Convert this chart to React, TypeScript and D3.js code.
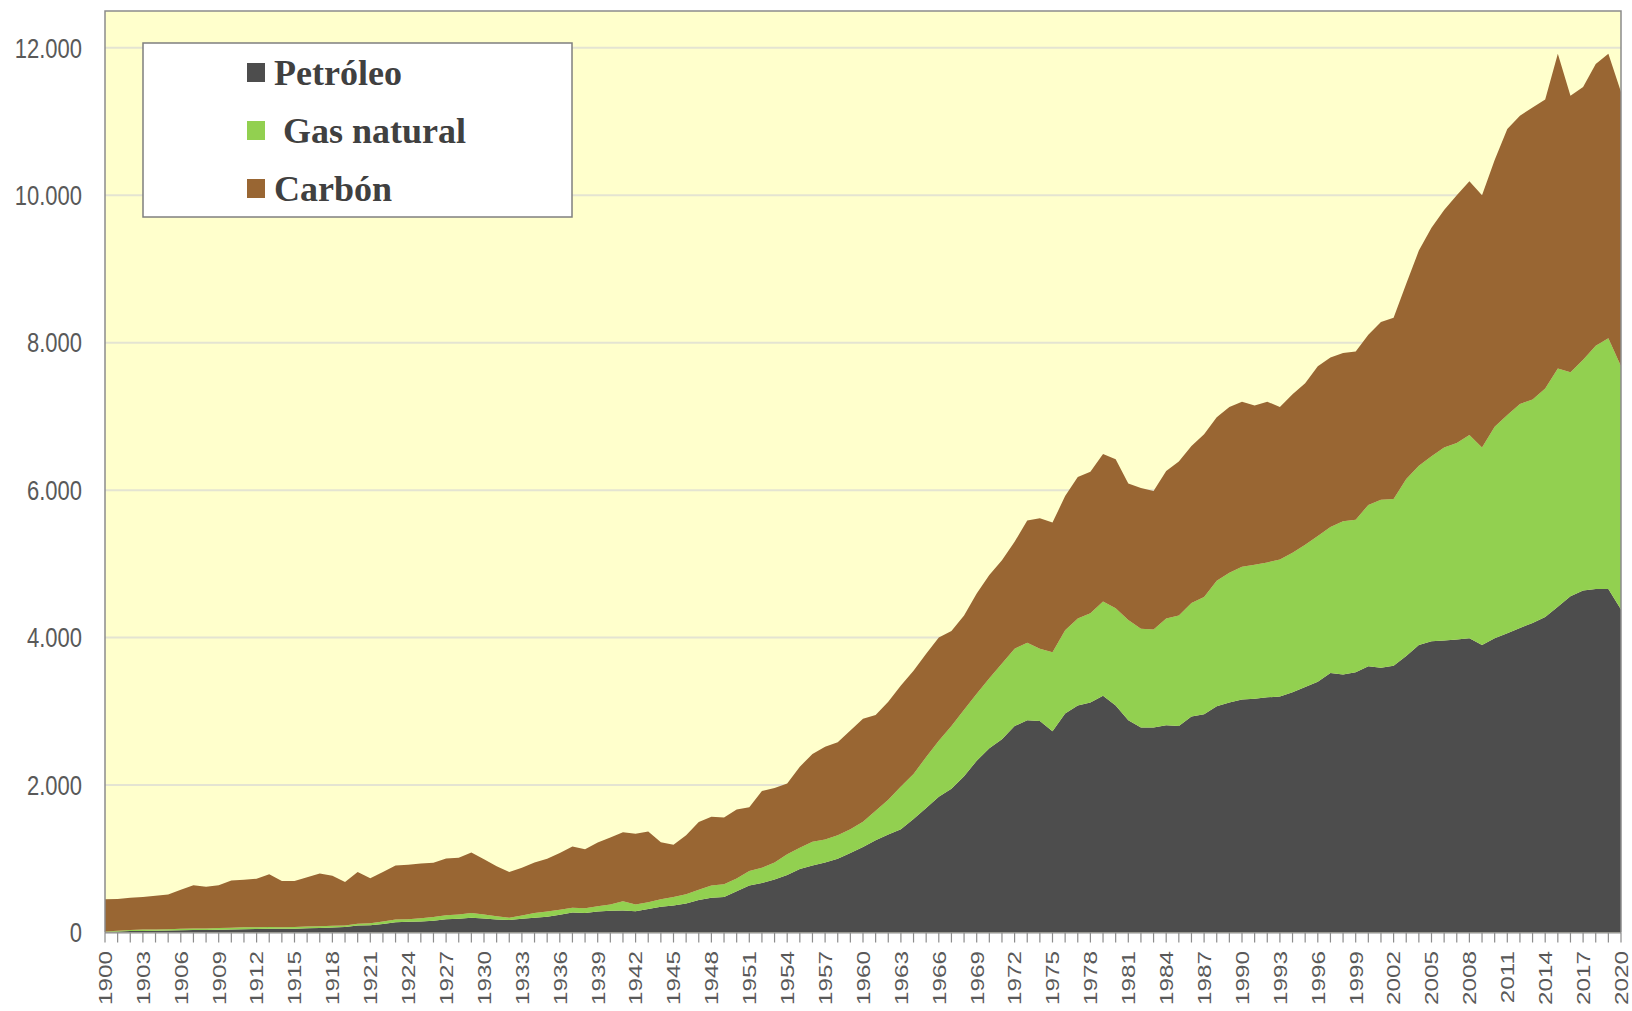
import React from "react";
import * as d3 from "d3";

const firstYear = 1900;
const lastYear = 2020;

const petroleo = [10,15,20,22,25,28,30,35,35,38, 40,45,48,50,50,52,58,62,68,75, 95,100,115,140,145,150,160,180,185,200, 190,175,170,185,200,215,240,270,265,285, 295,300,288,320,350,365,395,440,470,480, 560,636,670,720,780,860,910,950,1000,1080, 1160,1250,1330,1400,1540,1690,1840,1950,2120,2330, 2500,2620,2800,2880,2870,2730,2970,3080,3120,3210, 3080,2880,2780,2780,2810,2800,2930,2960,3070,3120, 3160,3170,3190,3200,3260,3330,3400,3520,3500,3530, 3610,3590,3620,3750,3900,3950,3960,3975,3990,3900, 3990,4060,4130,4200,4280,4420,4560,4640,4660,4660, 4380];

const gasNatural = [5,10,15,18,15,17,20,20,20,22, 25,25,22,25,20,23,22,23,22,20, 25,25,35,35,35,45,50,55,60,65, 55,45,30,45,65,70,70,65,65,70, 85,125,92,90,100,115,125,140,166,175, 173,199,207,230,280,290,320,310,320,320, 344,400,470,580,610,690,760,850,900,910, 950,1030,1050,1050,980,1070,1130,1180,1210,1280, 1320,1360,1340,1330,1450,1500,1540,1590,1700,1760, 1800,1820,1830,1860,1890,1930,1980,1980,2080,2070, 2190,2280,2260,2400,2430,2510,2620,2665,2760,2680, 2870,2960,3040,3030,3100,3230,3040,3130,3300,3400, 3300];

const carbon = [435,430,435,440,460,470,530,585,565,580, 640,645,660,715,630,625,670,715,680,590, 700,610,670,735,740,740,735,770,770,820, 750,680,620,650,685,715,770,830,800,865, 910,935,960,960,775,710,800,920,934,905, 937,865,1043,1010,960,1100,1190,1260,1260,1340, 1396,1300,1330,1370,1400,1400,1400,1290,1280,1360, 1400,1400,1450,1660,1770,1760,1820,1920,1920,2000, 2020,1850,1910,1880,2000,2090,2130,2210,2220,2250, 2240,2160,2180,2070,2150,2190,2300,2300,2280,2280, 2310,2410,2460,2650,2920,3100,3220,3360,3440,3420, 3620,3880,3910,3960,3920,4270,3750,3700,3820,3860, 3720];

const seriesKeys = ["petroleo", "gas", "carbon"];
const seriesNames = ["Petróleo", " Gas natural", "Carbón"];
const seriesColors = ["#4d4d4d", "#92d050", "#996633"];

const yTicks = [0, 2000, 4000, 6000, 8000, 10000, 12000];
const labelStep = 3;

const W = 1632;
const H = 1011;
const M = { left: 105, right: 1621, top: 11, bottom: 932.5 };

const fmt = d3.formatLocale({ decimal: ",", thousands: ".", grouping: [3], currency: ["", ""] }).format(",");

export default function App() {
  const years = d3.range(firstYear, lastYear + 1);
  const rows = years.map((y, i) => ({ year: y, petroleo: petroleo[i], gas: gasNatural[i], carbon: carbon[i] }));
  const stack = d3.stack<any>().keys(seriesKeys)(rows);

  const x = d3.scaleLinear().domain([firstYear, lastYear]).range([M.left, M.right]);
  const y = d3.scaleLinear().domain([0, 12500]).range([M.bottom, M.top]);

  const area = d3
    .area<any>()
    .x((d) => x(d.data.year))
    .y0((d) => y(d[0]))
    .y1((d) => y(d[1]))
    .curve(d3.curveLinear);

  const labelYears = years.filter((yr) => (yr - firstYear) % labelStep === 0);

  return (
    <div style={{ position: "absolute", left: 0, top: 0, width: W, height: H, background: "#fff" }}>
      <svg width={W} height={H} style={{ display: "block" }}>
        <rect x={M.left} y={M.top} width={M.right - M.left} height={M.bottom - M.top} fill="#ffffcc" />
        {yTicks.filter((t) => t > 0).map((t) => (
          <line key={t} x1={M.left} x2={M.right} y1={y(t)} y2={y(t)} stroke="#e4e4d2" strokeWidth={2} />
        ))}
        {stack.map((s, i) => (
          <path key={seriesKeys[i]} d={area(s) || ""} fill={seriesColors[i]} />
        ))}
        <path
          d={`M${M.left},${M.bottom}V${M.top}H${M.right}V${M.bottom}`}
          fill="none"
          stroke="#8c8c8c"
          strokeWidth={1.5}
        />
        <line x1={M.left} x2={M.right} y1={M.bottom + 0.5} y2={M.bottom + 0.5} stroke="#8c8c8c" strokeWidth={1} />
        {years.map((yr) => (
          <line key={yr} x1={x(yr)} x2={x(yr)} y1={M.bottom} y2={M.bottom + 10} stroke="#8c8c8c" strokeWidth={1.2} />
        ))}
        {labelYears.map((yr) => (
          <text
            key={yr}
            transform={`translate(${x(yr)},${951}) rotate(-90) scale(1.28,1)`}
            textAnchor="end"
            dy="0.36em"
            fontFamily="Liberation Sans, Arial, sans-serif"
            fontSize={19}
            fill="#595959"
          >
            {yr}
          </text>
        ))}
        {yTicks.map((t) => (
          <text
            key={t}
            transform={`translate(82,${y(t)}) scale(1,1.22)`}
            dy="0.36em"
            textAnchor="end"
            fontFamily="Liberation Sans, Arial, sans-serif"
            fontSize={22}
            fill="#595959"
          >
            {fmt(t)}
          </text>
        ))}
        <rect x={143} y={43} width={429} height={174} fill="#ffffff" stroke="#7f7f7f" strokeWidth={1.5} />
        {seriesNames.map((name, i) => (
          <g key={name}>
            <rect x={247} y={63 + i * 58} width={18} height={19} fill={seriesColors[i]} />
            <text
              x={274}
              y={85 + i * 58}
              fontFamily="Liberation Serif"
              fontWeight="bold"
              fontSize={36}
              fill="#404040"
              style={{ whiteSpace: "pre" }}
            >
              {name}
            </text>
          </g>
        ))}
      </svg>
    </div>
  );
}
